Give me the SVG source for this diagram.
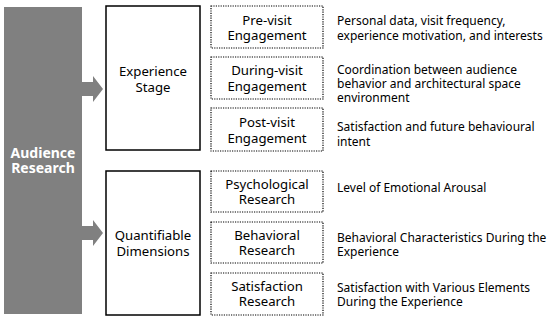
<svg xmlns="http://www.w3.org/2000/svg" width="550" height="320" viewBox="0 0 550 320">
<style>
  text { font-family: "Noto Sans", "Open Sans", sans-serif; fill: #000; }
  .lbl { font-size: 13.2px; text-anchor: middle; }
  .desc { font-size: 12px; }
  .main { font-size: 14px; font-weight: bold; fill: #fff; text-anchor: middle; }
  .solid { fill: #fff; stroke: #000; stroke-width: 1.5; }
  .dot { fill: #fff; stroke: #000; stroke-width: 1.2; stroke-dasharray: 1.2 1.2; }
  .arrow { fill: #808080; }
</style>
<rect width="550" height="320" fill="#fff"/>
<g id="audience-research">
  <rect x="4" y="7" width="78" height="307" fill="#808080"/>
  <text class="main" x="43" y="158">Audience</text>
  <text class="main" x="43" y="173">Research</text>
</g>
<g id="connectors">
  <polygon class="arrow" points="82,82 93,82 93,76 103,89 93,102 93,96 82,96"/>
  <polygon class="arrow" points="82,226 93,226 93,220 103,233 93,246 93,240 82,240"/>
</g>
<g id="experience-stage">
  <rect class="solid" x="106" y="6" width="94" height="144"/>
  <text class="lbl" x="153" y="76">Experience</text>
  <text class="lbl" x="153" y="92">Stage</text>
</g>
<g id="quantifiable-dimensions">
  <rect class="solid" x="106" y="171" width="94" height="144"/>
  <text class="lbl" x="153" y="240">Quantifiable</text>
  <text class="lbl" x="153" y="256">Dimensions</text>
</g>
<g id="pre-visit">
  <rect class="dot" x="211" y="6" width="112" height="42"/>
  <text class="lbl" x="267" y="25">Pre-visit</text>
  <text class="lbl" x="267" y="40">Engagement</text>
  <text class="desc" x="337" y="25">Personal data, visit frequency,</text>
  <text class="desc" x="337" y="40">experience motivation, and interests</text>
</g>
<g id="during-visit">
  <rect class="dot" x="211" y="57" width="112" height="42"/>
  <text class="lbl" x="267" y="75">During-visit</text>
  <text class="lbl" x="267" y="91">Engagement</text>
  <text class="desc" x="337" y="74">Coordination between audience</text>
  <text class="desc" x="337" y="87.5">behavior and architectural space</text>
  <text class="desc" x="337" y="101.5">environment</text>
</g>
<g id="post-visit">
  <rect class="dot" x="211" y="108" width="112" height="43"/>
  <text class="lbl" x="267" y="127">Post-visit</text>
  <text class="lbl" x="267" y="143">Engagement</text>
  <text class="desc" x="337" y="131">Satisfaction and future behavioural</text>
  <text class="desc" x="337" y="146">intent</text>
</g>
<g id="psychological">
  <rect class="dot" x="211" y="171" width="112" height="41"/>
  <text class="lbl" x="267" y="189">Psychological</text>
  <text class="lbl" x="267" y="204">Research</text>
  <text class="desc" x="337" y="192">Level of Emotional Arousal</text>
</g>
<g id="behavioral">
  <rect class="dot" x="211" y="222" width="112" height="41"/>
  <text class="lbl" x="267" y="240">Behavioral</text>
  <text class="lbl" x="267" y="255">Research</text>
  <text class="desc" x="337" y="241.5">Behavioral Characteristics During the</text>
  <text class="desc" x="337" y="255.5">Experience</text>
</g>
<g id="satisfaction">
  <rect class="dot" x="211" y="273" width="112" height="42"/>
  <text class="lbl" x="267" y="291">Satisfaction</text>
  <text class="lbl" x="267" y="306">Research</text>
  <text class="desc" x="337" y="291.5">Satisfaction with Various Elements</text>
  <text class="desc" x="337" y="306">During the Experience</text>
</g>
</svg>
